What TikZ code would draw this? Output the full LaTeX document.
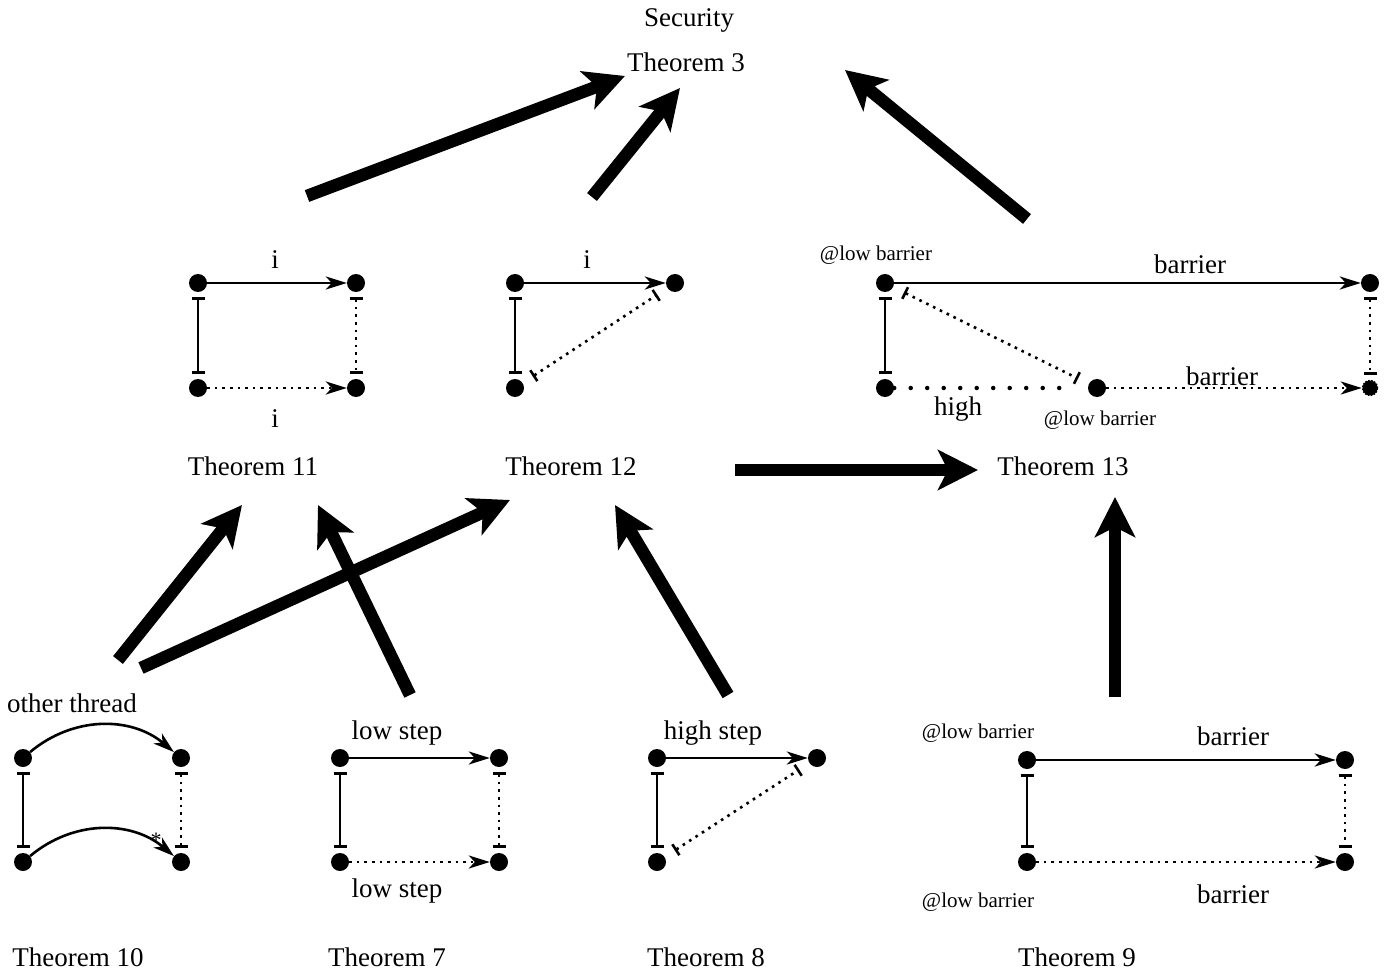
\documentclass[tikz,border=0pt]{standalone}
\usepackage{fontspec}
\setmainfont{Liberation Serif}
\usetikzlibrary{arrows.meta}
\begin{document}
\begin{tikzpicture}[x=1pt,y=-1pt,
 txt/.style={font=\fontsize{27}{32}\selectfont, inner sep=0pt, anchor=base},
 sm/.style={font=\fontsize{21}{25}\selectfont, inner sep=0pt, anchor=base},
 dot/.style={circle, fill, inner sep=0pt, minimum size=18pt},
 big/.style={line width=12.5pt, -{Stealth[length=40pt,width=40pt,inset=10pt]}},
 ln/.style={line width=2.6pt},
 ar/.style={ln, -{Stealth[length=21pt,width=13pt,inset=6pt]}},
 dpat/.style={dash pattern=on 2.6pt off 5pt},
 bb/.style={ln, {Bar[width=13pt]}-{Bar[width=13pt]}, shorten <=5pt, shorten >=5pt},
 db/.style={ln, dpat, {Bar[width=13pt]}-{Bar[width=13pt]}, shorten <=5pt, shorten >=5pt},
 dd/.style={ln, dpat, {Bar[width=13pt]}-{Bar[width=13pt]}, shorten <=12pt, shorten >=12pt},
]
\useasboundingbox (0,0) rectangle (1397,973);

% theorem titles
\node[txt] (sec) at (689,27) {Security};
\node[txt] (t3) at (686,72) {Theorem 3};
\node[txt] (t11) at (253,475) {Theorem 11};
\node[txt] (t12) at (571,475) {Theorem 12};
\node[txt] (t13) at (1063,475) {Theorem 13};
\node[txt] (t10) at (78,966) {Theorem 10};
\node[txt] (t7) at (387,966) {Theorem 7};
\node[txt] (t8) at (706,966) {Theorem 8};
\node[txt] (t9) at (1077,966) {Theorem 9};

% big arrows
\coordinate (a1s) at (307,196); \coordinate (a1e) at (625,76);
\coordinate (a2s) at (592,197); \coordinate (a2e) at (680,88);
\coordinate (a3s) at (1027,219); \coordinate (a3e) at (845,70);
\coordinate (a4s) at (735,470); \coordinate (a4e) at (978,470);
\coordinate (a5s) at (1115,697); \coordinate (a5e) at (1115,497);
\coordinate (a6s) at (118,660); \coordinate (a6e) at (242,505);
\coordinate (a7s) at (141,668); \coordinate (a7e) at (510,500);
\coordinate (a8s) at (410,695); \coordinate (a8e) at (318,505);
\coordinate (a9s) at (728,695); \coordinate (a9e) at (615,505);
\foreach \i in {1,...,9} {\draw[big] (a\i s) -- (a\i e);}

% Theorem 11 diagram
\node[dot] (p1) at (198,283) {}; \node[dot] (p2) at (356,283) {};
\node[dot] (p3) at (198,388) {}; \node[dot] (p4) at (356,388) {};
\draw[ar] (p1) -- (p2);
\draw[ar, dpat] (p3) -- (p4);
\draw[bb] (p1) -- (p3);
\draw[db] (p2) -- (p4);
\node[txt] (l11a) at (275,269) {i};
\node[txt] (l11b) at (275,427) {i};

% Theorem 12 diagram
\node[dot] (q1) at (515,283) {}; \node[dot] (q2) at (675,283) {};
\node[dot] (q3) at (515,388) {};
\draw[ar] (q1) -- (q2);
\draw[bb] (q1) -- (q3);
\draw[dd] (q3) -- (q2);
\node[txt] (l12a) at (587,269) {i};

% Theorem 13 diagram
\node[dot] (r1) at (885,283) {}; \node[dot] (r2) at (1370,283) {};
\node[dot] (r3) at (885,388) {}; \node[dot] (r4) at (1097,388) {};
\node[circle, fill, inner sep=0pt, minimum size=15pt, draw, dash pattern=on 1.5pt off 1.5pt, line width=1.5pt] (r5) at (1370,388) {};
\draw[ar] (r1) -- (r2);
\draw[bb] (r1) -- (r3);
\draw[db] (r2) -- (r5);
\draw[dd] (r1) -- (r4);
\draw[line width=4.5pt, line cap=round, dash pattern=on 0pt off 16.5pt, shorten >=14pt] (r3) -- (r4);
\draw[ar, dpat] (r4) -- (r5);
\node[sm] (l13a) at (876,261) {@low barrier};
\node[txt] (l13b) at (1190,274) {barrier};
\node[txt] (l13c) at (1222,385) {barrier};
\node[txt] (l13d) at (958,415) {high};
\node[sm] (l13e) at (1100,425) {@low barrier};

% Theorem 10 diagram
\node[dot] (s1) at (23,758) {}; \node[dot] (s2) at (181,758) {};
\node[dot] (s3) at (23,862) {}; \node[dot] (s4) at (181,862) {};
\draw[ar] (s1) to[bend left=40] (s2);
\draw[ar] (s3) to[bend left=40] (s4);
\draw[bb] (s1) -- (s3);
\draw[db] (s2) -- (s4);
\node[txt] (l10a) at (72,712) {other thread};
\node[font=\fontsize{22}{25}\selectfont, inner sep=0pt] (l10b) at (156,840) {*};

% Theorem 7 diagram
\node[dot] (u1) at (340,758) {}; \node[dot] (u2) at (499,758) {};
\node[dot] (u3) at (340,862) {}; \node[dot] (u4) at (499,862) {};
\draw[ar] (u1) -- (u2);
\draw[ar, dpat] (u3) -- (u4);
\draw[bb] (u1) -- (u3);
\draw[db] (u2) -- (u4);
\node[txt] (l7a) at (397,739) {low step};
\node[txt] (l7b) at (397,897) {low step};

% Theorem 8 diagram
\node[dot] (v1) at (657,758) {}; \node[dot] (v2) at (817,758) {};
\node[dot] (v3) at (657,862) {};
\draw[ar] (v1) -- (v2);
\draw[bb] (v1) -- (v3);
\draw[dd] (v3) -- (v2);
\node[txt] (l8a) at (713,739) {high step};

% Theorem 9 diagram
\node[dot] (w1) at (1027,760) {}; \node[dot] (w2) at (1345,760) {};
\node[dot] (w3) at (1027,862) {}; \node[dot] (w4) at (1345,862) {};
\draw[ar] (w1) -- (w2);
\draw[ar, dpat] (w3) -- (w4);
\draw[bb] (w1) -- (w3);
\draw[db] (w2) -- (w4);
\node[sm] (l9a) at (978,738) {@low barrier};
\node[sm] (l9b) at (978,907) {@low barrier};
\node[txt] (l9c) at (1233,745) {barrier};
\node[txt] (l9d) at (1233,903) {barrier};
\end{tikzpicture}
\end{document}
